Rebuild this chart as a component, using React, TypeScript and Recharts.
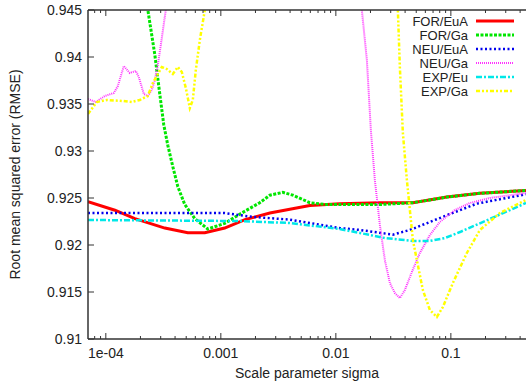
import { Line, LineChart, XAxis, YAxis } from "recharts";

const forEuaSigma = [7e-5, 1.2e-4, 1.79e-4, 3.26e-4, 5.16e-4, 7.26e-4, 1.08e-3, 1.62e-3, 2.67e-3, 3.98e-3, 5.94e-3, 1.08e-2, 2.41e-2, 4.67e-2, 9.2e-2, 0.179, 0.45];
const forEuaRmse = [0.9246, 0.9237, 0.9228, 0.9218, 0.9213, 0.9213, 0.9218, 0.9227, 0.9234, 0.9238, 0.9242, 0.9244, 0.9245, 0.9245, 0.9251, 0.9255, 0.9258];

const forGaSigma = [1.98e-4, 2.32e-4, 2.67e-4, 2.95e-4, 3.19e-4, 3.46e-4, 3.83e-4, 4.23e-4, 4.86e-4, 5.94e-4, 7.71e-4, 1.08e-3, 1.52e-3, 2.18e-3, 2.67e-3, 3.46e-3, 4.23e-3, 5.94e-3, 8.35e-3, 2.41e-2, 4.67e-2, 9.23e-2, 0.179, 0.45];
const forGaRmse = [0.9525, 0.945, 0.9402, 0.936, 0.9328, 0.9306, 0.9283, 0.9262, 0.9243, 0.9228, 0.9217, 0.9223, 0.9234, 0.9245, 0.9253, 0.9256, 0.9253, 0.9245, 0.9243, 0.9243, 0.9245, 0.9251, 0.9255, 0.9258];

const neuEuaSigma = [7e-5, 1.08e-3, 1.86e-3, 3.98e-3, 1.08e-2, 1.62e-2, 3.13e-2, 4.4e-2, 8.52e-2, 0.168, 0.45];
const neuEuaRmse = [0.9234, 0.9234, 0.923, 0.9227, 0.9218, 0.9216, 0.9211, 0.9216, 0.923, 0.9244, 0.9254];

const neuGaSigma = [7e-5, 8.18e-5, 9.8e-5, 1.174e-4, 1.272e-4, 1.434e-4, 1.617e-4, 1.824e-4, 1.936e-4, 2.14e-4, 2.318e-4, 2.512e-4, 2.667e-4, 2.833e-4, 3.007e-4, 3.323e-4, 3.749e-4, 1.787e-3, 1.083e-2, 1.463e-2, 1.683e-2, 1.861e-2, 2.015e-2, 2.183e-2, 2.414e-2, 2.667e-2, 2.949e-2, 3.258e-2, 3.602e-2, 3.981e-2, 4.581e-2, 5.376e-2, 6.568e-2, 8.02e-2, 0.1083, 0.1463, 0.2183, 0.45];
const neuGaRmse = [0.93553, 0.93521, 0.93585, 0.93617, 0.93691, 0.93904, 0.9383, 0.93851, 0.93787, 0.93606, 0.93585, 0.93649, 0.93755, 0.93915, 0.94128, 0.945, 0.9525, 0.978, 0.978, 0.9556, 0.945, 0.93968, 0.93223, 0.92692, 0.92213, 0.9184, 0.91596, 0.91489, 0.91436, 0.91521, 0.91713, 0.91915, 0.92106, 0.92245, 0.92372, 0.92447, 0.925, 0.92553];

const expEuSigma = [7e-5, 1.46e-3, 3.98e-3, 1.08e-2, 1.62e-2, 2.67e-2, 4.67e-2, 6.57e-2, 8.87e-2, 0.12, 0.218, 0.45];
const expEuRmse = [0.92266, 0.92255, 0.92234, 0.9217, 0.92128, 0.92074, 0.92043, 0.92043, 0.92074, 0.92138, 0.92277, 0.92447];

const expGaSigma = [7e-5, 8.35e-5, 1.02e-4, 1.405e-4, 1.683e-4, 1.975e-4, 2.318e-4, 2.563e-4, 3.069e-4, 3.392e-4, 3.825e-4, 4.228e-4, 4.581e-4, 4.963e-4, 5.376e-4, 5.708e-4, 6.061e-4, 6.568e-4, 7.26e-4, 8.35e-4, 4.864e-3, 2.949e-2, 3.46e-2, 3.602e-2, 3.825e-2, 4.145e-2, 4.673e-2, 5.708e-2, 6.568e-2, 7.556e-2, 8.52e-2, 0.1041, 0.1377, 0.1787, 0.2667, 0.45];
const expGaRmse = [0.93394, 0.93521, 0.93543, 0.93532, 0.93521, 0.93543, 0.93585, 0.93723, 0.93894, 0.93872, 0.93819, 0.93894, 0.9384, 0.9367, 0.93457, 0.93543, 0.93862, 0.94181, 0.945, 0.9525, 0.978, 0.9556, 0.945, 0.93894, 0.93192, 0.92692, 0.92053, 0.91521, 0.91309, 0.91234, 0.9134, 0.91596, 0.91915, 0.9216, 0.9234, 0.92479];

const majorSigmaTicks = [1e-4, 1e-3, 1e-2, 0.1];
const majorSigmaLabels = ["1e-04", "0.001", "0.01", "0.1"];
const sigmaTicks = [
  8e-5, 9e-5, 1e-4, 2e-4, 3e-4, 4e-4, 5e-4, 6e-4, 7e-4, 8e-4, 9e-4,
  1e-3, 2e-3, 3e-3, 4e-3, 5e-3, 6e-3, 7e-3, 8e-3, 9e-3,
  1e-2, 2e-2, 3e-2, 4e-2, 5e-2, 6e-2, 7e-2, 8e-2, 9e-2,
  0.1, 0.2, 0.3, 0.4,
];
const rmseTicks = [0.91, 0.915, 0.92, 0.925, 0.93, 0.935, 0.94, 0.945];
const rmseLabels = ["0.91", "0.915", "0.92", "0.925", "0.93", "0.935", "0.94", "0.945"];

const FONT = "'Liberation Sans', Arial, sans-serif";
const AXIS = "#333";
const TEXT = "#222";

const zip = (sigma: number[], rmse: number[]) =>
  sigma.map((s, i) => ({ sigma: s, rmse: rmse[i] }));

const series = [
  { name: "FOR/EuA", color: "#ff0000", dash: undefined, width: 3, points: zip(forEuaSigma, forEuaRmse) },
  { name: "FOR/Ga", color: "#00e600", dash: "3 1.5", width: 3, points: zip(forGaSigma, forGaRmse) },
  { name: "NEU/EuA", color: "#0000ee", dash: "2 2.5", width: 2.5, points: zip(neuEuaSigma, neuEuaRmse) },
  { name: "NEU/Ga", color: "#ff33ff", dash: "1 1", width: 2, points: zip(neuGaSigma, neuGaRmse) },
  { name: "EXP/Eu", color: "#00e8e8", dash: "6 2 2 2", width: 2.5, points: zip(expEuSigma, expEuRmse) },
  { name: "EXP/Ga", color: "#ffff00", dash: "4 2 2 2 2 2", width: 2.5, points: zip(expGaSigma, expGaRmse) },
];

const majorIndex = (v: number) =>
  majorSigmaTicks.findIndex((t) => Math.abs(v / t - 1) < 1e-6);

function BottomTick({ x, y, payload }: any) {
  const i = majorIndex(payload.value);
  const len = i >= 0 ? 6 : 3;
  return (
    <g>
      <line x1={x} x2={x} y1={y} y2={y - len} stroke={AXIS} />
      {i >= 0 && (
        <text x={x} y={y + 19} textAnchor="middle" fontSize={14} fontFamily={FONT} fill={TEXT}>
          {majorSigmaLabels[i]}
        </text>
      )}
    </g>
  );
}

function TopTick({ x, y, payload }: any) {
  const len = majorIndex(payload.value) >= 0 ? 6 : 3;
  return <line x1={x} x2={x} y1={y} y2={y + len} stroke={AXIS} />;
}

function LeftTick({ x, y, payload }: any) {
  const i = rmseTicks.findIndex((t) => Math.abs(t - payload.value) < 1e-9);
  return (
    <g>
      <line x1={x} x2={x + 6} y1={y} y2={y} stroke={AXIS} />
      <text x={x - 6} y={y} dy="0.35em" textAnchor="end" fontSize={14} fontFamily={FONT} fill={TEXT}>
        {rmseLabels[i]}
      </text>
    </g>
  );
}

export default function App() {
  return (
    <div style={{ position: "absolute", left: 0, top: 0, width: 526, height: 384, background: "#fff", fontFamily: FONT }}>
      <LineChart width={526} height={384} margin={{ top: 0, right: 0, bottom: 0, left: 0 }}>
        <XAxis
          xAxisId="bottom"
          dataKey="sigma"
          type="number"
          scale="log"
          domain={[7e-5, 0.45]}
          allowDataOverflow
          ticks={sigmaTicks}
          interval={0}
          height={45}
          tickSize={0}
          tickMargin={0}
          tick={<BottomTick />}
          stroke={AXIS}
          strokeWidth={1.5}
          label={{ value: "Scale parameter sigma", position: "insideBottom", offset: 6, fill: TEXT, fontSize: 14, fontFamily: FONT }}
        />
        <XAxis
          xAxisId="top"
          orientation="top"
          dataKey="sigma"
          type="number"
          scale="log"
          domain={[7e-5, 0.45]}
          allowDataOverflow
          ticks={sigmaTicks}
          interval={0}
          height={10}
          tickSize={0}
          tickMargin={0}
          tick={<TopTick />}
          stroke={AXIS}
          strokeWidth={1.5}
        />
        <YAxis
          type="number"
          domain={[0.91, 0.945]}
          allowDataOverflow
          ticks={rmseTicks}
          interval={0}
          width={88}
          tickSize={0}
          tickMargin={0}
          tick={<LeftTick />}
          stroke={AXIS}
          strokeWidth={1.5}
          label={{
            value: "Root mean squared error (RMSE)",
            angle: -90,
            position: "insideLeft",
            offset: 15,
            fill: TEXT,
            fontSize: 14,
            fontFamily: FONT,
            style: { textAnchor: "middle" },
          }}
        />
        {series.map((s) => (
          <Line
            key={s.name}
            xAxisId="bottom"
            data={s.points}
            dataKey="rmse"
            name={s.name}
            type="linear"
            stroke={s.color}
            strokeWidth={s.width}
            strokeDasharray={s.dash}
            dot={false}
            activeDot={false}
            isAnimationActive={false}
          />
        ))}
      </LineChart>

      <div style={{ position: "absolute", left: 370, top: 14 }}>
        {series.map((s) => (
          <div key={s.name} style={{ display: "flex", alignItems: "center", height: 14 }}>
            <span style={{ width: 98, textAlign: "right", fontSize: 13, color: TEXT, lineHeight: "13px" }}>
              {s.name}
            </span>
            <svg width={46} height={6} style={{ marginLeft: 6 }}>
              <line x1={2} x2={40} y1={3} y2={3} stroke={s.color} strokeWidth={s.width} strokeDasharray={s.dash} />
            </svg>
          </div>
        ))}
      </div>
    </div>
  );
}
